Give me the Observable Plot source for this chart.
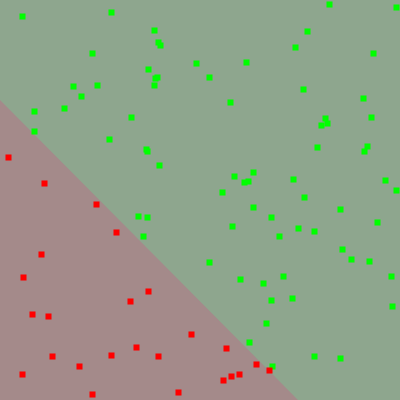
<!DOCTYPE html>
<html>
<head>
<meta charset="utf-8">
<script src="https://cdn.jsdelivr.net/npm/d3@7"></script>
<script src="https://cdn.jsdelivr.net/npm/@observablehq/plot@0.6"></script>
<style>
  body { margin: 0; background: #fff; }
</style>
</head>
<body>
<div id="chart"></div>
<script>
// decision boundary (two ends of the line)
const edgeX = [0, 298];
const edgeY = [100, 400];

const greenX = [22, 111, 154, 158, 160, 92, 196, 148, 155, 157, 154, 73, 97, 81, 34, 64, 131, 34, 109, 146, 147, 159,
  329, 396, 307, 295, 373, 246, 209, 303, 230, 363, 371, 325, 327, 321, 317, 367, 364, 234, 253, 244, 248, 293, 222, 304, 385, 396,
  138, 147, 143,
  253, 340, 271, 377, 232, 298, 314, 279, 342, 351, 369, 209, 391, 283, 240, 263, 271, 292, 392, 266, 249, 314, 340, 272];
const greenY = [16, 12, 30, 42, 45, 53, 63, 69, 78, 77, 85, 86, 85, 96, 111, 108, 117, 131, 139, 149, 151, 165,
  4, 7, 31, 47, 53, 62, 77, 89, 102, 98, 117, 118, 123, 125, 147, 146, 151, 176, 172, 182, 181, 179, 192, 197, 180, 190,
  216, 217, 236,
  207, 209, 217, 222, 226, 228, 231, 236, 249, 259, 261, 262, 276, 276, 279, 283, 300, 298, 306, 323, 342, 356, 358, 366];

const redX = [8, 44, 96, 116, 41, 23, 148, 130, 32, 48, 191, 136, 52, 111, 158, 79, 22, 92, 178,
  226, 256, 269, 239, 231, 223];
const redY = [157, 183, 204, 232, 254, 277, 291, 301, 314, 316, 334, 347, 356, 355, 356, 366, 374, 394, 392,
  348, 364, 370, 374, 376, 380];

const edge = edgeX.map((x, i) => ({x, y: edgeY[i]}));
const green = greenX.map((x, i) => ({x, y: greenY[i]}));
const red = redX.map((x, i) => ({x, y: redY[i]}));

const chart = Plot.plot({
  width: 400,
  height: 400,
  margin: 0,
  style: {background: "#8ea68e"},
  x: {domain: [0, 400], axis: null},
  y: {domain: [0, 400], range: [0, 400], axis: null},
  marks: [
    Plot.areaY(edge, {x: "x", y1: "y", y2: 400, fill: "#a48a8a"}),
    Plot.dot(green, {x: "x", y: "y", symbol: "square", r: 3.4, fill: "#00ff00", stroke: null}),
    Plot.dot(red, {x: "x", y: "y", symbol: "square", r: 3.4, fill: "#ff0000", stroke: null})
  ]
});
d3.select("#chart").append(() => chart);
</script>
</body>
</html>
